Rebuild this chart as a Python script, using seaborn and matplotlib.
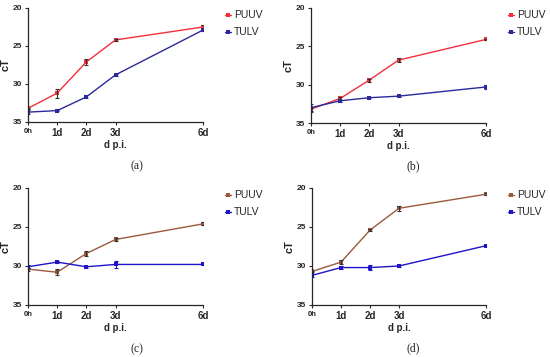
import matplotlib.pyplot as plt
import pandas as pd
import seaborn as sns
import numpy as np

# data (cT values, y axis inverted)
days = [0, 1, 2, 3, 6]
day_labels = ['0h', '1d', '2d', '3d', '6d']

puuv_a = [33.2, 31.2, 27.1, 24.2, 22.5]
tulv_a = [33.7, 33.5, 31.7, 28.8, 22.9]
puuv_a_err = [0.1, 0.6, 0.4, 0.1, 0.2]
tulv_a_err = [0.3, 0.1, 0.2, 0.1, 0.1]

puuv_b = [33.2, 31.8, 29.4, 26.8, 24.1]
tulv_b = [33.0, 32.1, 31.7, 31.5, 30.3]
puuv_b_err = [0.2, 0.2, 0.2, 0.3, 0.1]
tulv_b_err = [0.5, 0.1, 0.1, 0.1, 0.3]

puuv_c = [30.4, 30.8, 28.4, 26.6, 24.6]
tulv_c = [30.1, 29.5, 30.1, 29.8, 29.8]
puuv_c_err = [0.2, 0.4, 0.3, 0.2, 0.2]
tulv_c_err = [0.2, 0.1, 0.1, 0.4, 0.1]

puuv_d = [30.7, 29.5, 25.4, 22.6, 20.8]
tulv_d = [31.2, 30.2, 30.2, 30.0, 27.4]
puuv_d_err = [0.1, 0.3, 0.15, 0.3, 0.1]
tulv_d_err = [0.2, 0.2, 0.3, 0.1, 0.1]

panels = [
    ('(a)', puuv_a, puuv_a_err, tulv_a, tulv_a_err, '#f2303c', '#2a2a9a'),
    ('(b)', puuv_b, puuv_b_err, tulv_b, tulv_b_err, '#f2303c', '#2a2a9a'),
    ('(c)', puuv_c, puuv_c_err, tulv_c, tulv_c_err, '#9c5a3c', '#1f14c8'),
    ('(d)', puuv_d, puuv_d_err, tulv_d, tulv_d_err, '#9c5a3c', '#1f14c8'),
]

sns.set_style('ticks')
plt.rcParams['font.family'] = ['Liberation Sans', 'DejaVu Sans']

fig = plt.figure(figsize=(5.5, 3.57), dpi=100)
W, H = 550, 357
# axes boxes in pixels: left, top, right, bottom
boxes = [(28, 8, 203, 122), (311, 8, 486, 123), (28, 188, 203, 305), (312, 188, 486, 305)]

for (cap, pu, pu_e, tu, tu_e, c1, c2), (l, t, r, b) in zip(panels, boxes):
    ax = fig.add_axes([l / W, 1 - b / H, (r - l) / W, (b - t) / H])
    df = pd.DataFrame({'day': days * 2, 'cT': pu + tu,
                       'virus': ['PUUV'] * 5 + ['TULV'] * 5})
    sns.lineplot(data=df, x='day', y='cT', hue='virus', palette=[c1, c2],
                 marker='s', markersize=3, markeredgewidth=0, linewidth=1.0, ax=ax)
    ax.errorbar(days, pu, yerr=pu_e, fmt='none', ecolor='#333333', elinewidth=0.8, capsize=1.5, capthick=0.8)
    ax.errorbar(days, tu, yerr=tu_e, fmt='none', ecolor=c2, elinewidth=0.8, capsize=1.5, capthick=0.8)
    ax.set_xlim(0, 6)
    ax.set_ylim(35, 20)
    ax.set_xticks(days)
    ax.set_xticklabels(day_labels, fontweight='bold', fontsize=7)
    ax.set_yticks([20, 25, 30, 35])
    ax.set_yticklabels(['20', '25', '30', '35'], fontweight='bold', fontsize=6)
    for lab in ax.get_xticklabels():
        if lab.get_text() == '0h':
            lab.set_fontsize(5.5)
    ax.tick_params(length=2.5, width=0.8, pad=1.5)
    for s in ['left', 'bottom']:
        ax.spines[s].set_linewidth(0.9)
    sns.despine(ax=ax)
    ax.set_xlabel('d p.i.', fontweight='bold', fontsize=7, labelpad=2)
    ax.set_ylabel('cT', fontweight='bold', fontsize=8, labelpad=2)
    leg = ax.legend(loc='upper left', bbox_to_anchor=(1.1, 1.015), frameon=False,
                    fontsize=7.5, handlelength=0.6, handletextpad=0.3, labelspacing=0.65,
                    borderaxespad=0.0)
    cx = 137 if l < 275 else 413
    cy = b + 44 if l < 275 else b + 43
    fig.text(cx / W, 1 - cy / H, cap, family='Liberation Serif', fontsize=8.5,
             ha='center', va='center')

plt.savefig('out.png', dpi=100)
